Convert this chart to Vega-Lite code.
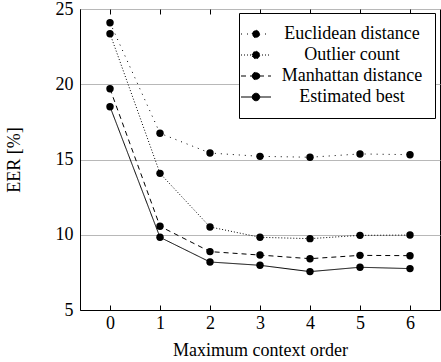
{
  "$schema": "https://vega.github.io/schema/vega-lite/v6.json",
  "width": 360,
  "height": 301,
  "autosize": "none",
  "padding": {"left": 80, "top": 9, "right": 1, "bottom": 52},
  "background": "white",
  "config": {
    "font": "Liberation Serif, Times New Roman, serif",
    "view": {"stroke": "black", "strokeWidth": 1},
    "axis": {"labelFont": "Liberation Serif, Times New Roman, serif", "titleFont": "Liberation Serif, Times New Roman, serif", "labelFontSize": 18, "titleFontSize": 18, "titleFontWeight": "normal", "labelColor": "black", "titleColor": "black", "domainColor": "black", "tickColor": "black"},
    "legend": {"labelFont": "Liberation Serif, Times New Roman, serif", "labelFontSize": 18}
  },
  "data": {"values": [
    {"order": 0, "value": 24.09, "series": "Euclidean distance"},
    {"order": 1, "value": 16.74, "series": "Euclidean distance"},
    {"order": 2, "value": 15.43, "series": "Euclidean distance"},
    {"order": 3, "value": 15.21, "series": "Euclidean distance"},
    {"order": 4, "value": 15.15, "series": "Euclidean distance"},
    {"order": 5, "value": 15.37, "series": "Euclidean distance"},
    {"order": 6, "value": 15.32, "series": "Euclidean distance"},
    {"order": 0, "value": 23.36, "series": "Outlier count"},
    {"order": 1, "value": 14.08, "series": "Outlier count"},
    {"order": 2, "value": 10.52, "series": "Outlier count"},
    {"order": 3, "value": 9.83, "series": "Outlier count"},
    {"order": 4, "value": 9.74, "series": "Outlier count"},
    {"order": 5, "value": 9.96, "series": "Outlier count"},
    {"order": 6, "value": 9.98, "series": "Outlier count"},
    {"order": 0, "value": 19.7, "series": "Manhattan distance"},
    {"order": 1, "value": 10.56, "series": "Manhattan distance"},
    {"order": 2, "value": 8.88, "series": "Manhattan distance"},
    {"order": 3, "value": 8.65, "series": "Manhattan distance"},
    {"order": 4, "value": 8.41, "series": "Manhattan distance"},
    {"order": 5, "value": 8.63, "series": "Manhattan distance"},
    {"order": 6, "value": 8.61, "series": "Manhattan distance"},
    {"order": 0, "value": 18.51, "series": "Estimated best"},
    {"order": 1, "value": 9.83, "series": "Estimated best"},
    {"order": 2, "value": 8.19, "series": "Estimated best"},
    {"order": 3, "value": 7.97, "series": "Estimated best"},
    {"order": 4, "value": 7.55, "series": "Estimated best"},
    {"order": 5, "value": 7.84, "series": "Estimated best"},
    {"order": 6, "value": 7.75, "series": "Estimated best"}
  ]},
  "layer": [
    {
      "mark": {"type": "line", "color": "black", "strokeWidth": 1, "point": {"filled": true, "color": "black", "size": 55, "opacity": 1}},
      "encoding": {
        "x": {"field": "order", "type": "quantitative", "scale": {"domain": [-0.6, 6.6], "nice": false}, "axis": {"title": "Maximum context order", "values": [0,1,2,3,4,5,6], "tickSize": -5, "grid": false, "labelPadding": 9, "titlePadding": 9}},
        "y": {"field": "value", "type": "quantitative", "scale": {"domain": [5, 25], "nice": false}, "axis": {"title": "EER [%]", "values": [5,10,15,20,25], "ticks": false, "grid": true, "gridColor": "#b8b8b8", "gridWidth": 1, "gridOpacity": 1, "labelPadding": 7, "titlePadding": 32}},
        "strokeDash": {"field": "series", "type": "nominal",
          "scale": {"domain": ["Euclidean distance", "Outlier count", "Manhattan distance", "Estimated best"], "range": [[1, 5], [1, 2], [5, 4], [1, 0]]},
          "legend": {"title": null, "orient": "none", "legendX": 159, "legendY": 4, "strokeColor": "black", "fillColor": "white", "padding": 12, "cornerRadius": 0,
            "symbolType": "M-2,0H2M-0.5,0A0.5,0.5 0 1,1 0.5,0A0.5,0.5 0 1,1 -0.5,0Z", "symbolSize": 225, "symbolOffset": -4, "symbolFillColor": "black", "symbolStrokeColor": "black", "symbolStrokeWidth": 1,
            "labelColor": "black", "labelAlign": "center", "labelOffset": 87, "rowPadding": 3, "labelLimit": 300,
            "encode": {"symbols": {"update": {"stroke": {"value": "black"}, "strokeWidth": {"value": 1}, "fill": {"value": "black"}, "opacity": {"value": 1}}}}}
        }
      }
    },
    {
      "mark": {"type": "line", "opacity": 0},
      "encoding": {
        "x": {"field": "order", "type": "quantitative", "scale": {"domain": [-0.6, 6.6], "nice": false}, "axis": {"orient": "top", "title": null, "labels": false, "values": [0,1,2,3,4,5,6], "tickSize": -5, "grid": false, "domain": false}},
        "y": {"field": "value", "type": "quantitative"}
      }
    }
  ],
  "resolve": {"axis": {"x": "independent"}}
}
